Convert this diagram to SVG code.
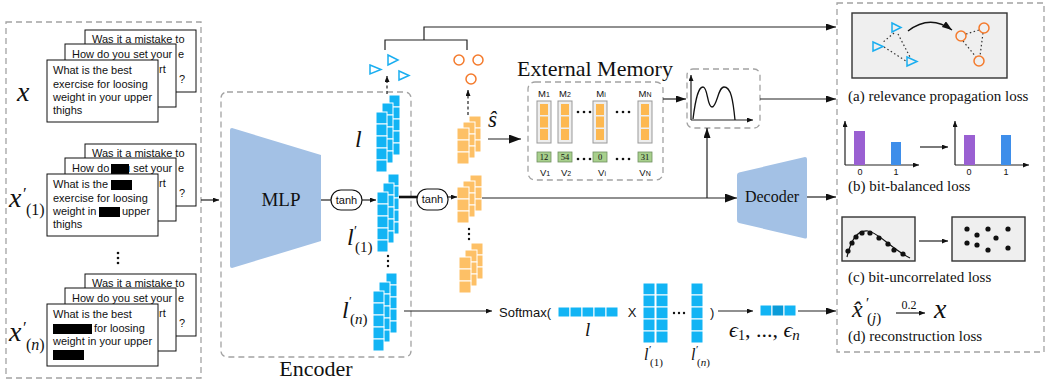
<svg xmlns="http://www.w3.org/2000/svg" width="1049" height="383" viewBox="0 0 1049 383">
<defs>
<style>
.dash{fill:none;stroke:#a3a3a3;stroke-width:1.3;stroke-dasharray:6 4}
.card{fill:#fff;stroke:#111;stroke-width:1}
.ct{font-family:"Liberation Sans",Arial,sans-serif;font-size:11px;fill:#111}
.serif{font-family:"Liberation Serif","DejaVu Serif",serif;fill:#111}
.math{font-family:"Liberation Serif","DejaVu Serif",serif;font-style:italic;fill:#111}
.sans{font-family:"Liberation Sans",Arial,sans-serif;fill:#111}
.ln{fill:none;stroke:#222;stroke-width:1.2}
.thick{fill:none;stroke:#111;stroke-width:2.6}
.trap{fill:#a3c1e5}
.pill{fill:#fff;stroke:#111;stroke-width:1.2}
.tri{fill:none;stroke:#1aaef0;stroke-width:1.5}
.cir{fill:none;stroke:#f47a2c;stroke-width:1.5}
.dot{fill:none;stroke:#333;stroke-width:1.2;stroke-dasharray:1.5 2.5}
.dl{fill:none;stroke:#222;stroke-width:1.2;stroke-dasharray:3 2.5}
.gbox{fill:#efefef;stroke:#333;stroke-width:1.4}
.bc{fill:#12b4f4;stroke:#fff;stroke-width:1}
.oc{fill:#fdc066;stroke:#fff;stroke-width:1}
.mo{fill:#eeeeee;stroke:#999;stroke-width:1}
.mc{fill:#fdb850}
.gv{fill:#a8d08d;stroke:#6f8f60;stroke-width:0.8}
.pt{fill:#111}
</style>
<marker id="arr" markerUnits="userSpaceOnUse" markerWidth="11" markerHeight="8" refX="10" refY="3.5" orient="auto"><path d="M0,0 L10,3.5 L0,7 z" fill="#111"/></marker>
<marker id="arrL" markerUnits="userSpaceOnUse" markerWidth="13" markerHeight="10" refX="12" refY="4.5" orient="auto"><path d="M0,0 L12,4.5 L0,9 z" fill="#111"/></marker>
<marker id="arrS" markerUnits="userSpaceOnUse" markerWidth="7" markerHeight="6" refX="6" refY="2.5" orient="auto"><path d="M0,0 L6,2.5 L0,5 z" fill="#111"/></marker>
<g id="bcol"><rect class="bc" x="0" y="0" width="11" height="12"/><rect class="bc" x="0" y="12" width="11" height="12"/><rect class="bc" x="0" y="24" width="11" height="12"/><rect class="bc" x="0" y="36" width="11" height="12"/><rect class="bc" x="0" y="48" width="11" height="12"/></g>
<g id="ocol"><rect class="oc" x="0" y="0" width="12" height="12"/><rect class="oc" x="0" y="12" width="12" height="12"/><rect class="oc" x="0" y="24" width="12" height="12"/></g>
<g id="mcol"><rect class="mo" x="0" y="0" width="14" height="42"/><rect class="mc" x="3" y="3" width="8" height="11"/><rect class="mc" x="3" y="15.5" width="8" height="11"/><rect class="mc" x="3" y="28" width="8" height="11"/></g>
</defs>
<rect width="1049" height="383" fill="#fff"/>

<!-- input panel -->
<g id="inputs">
<rect class="dash" x="6" y="22" width="195" height="356"/>
<g id="x-orig">
<rect class="card" x="85" y="30" width="111" height="62"/>
<text class="ct" x="92" y="43">Was it a mistake to</text>
<text class="ct" x="178" y="58">e</text>
<text class="ct" x="179" y="83">?</text>
<rect class="card" x="65" y="44" width="111" height="63"/>
<text class="ct" x="72" y="58">How do you set your</text>
<text class="ct" x="159" y="73">rt</text>
<rect class="card" x="47" y="60" width="111" height="62"/>
<text class="ct" x="53" y="74">What is the best</text>
<text class="ct" x="53" y="88">exercise for loosing</text>
<text class="ct" x="53" y="101">weight in your upper</text>
<text class="ct" x="53" y="114">thighs</text>
<text class="math" x="17" y="101" font-size="28">x</text>
</g>
<g id="x-1">
<rect class="card" x="85" y="144" width="111" height="62"/>
<text class="ct" x="92" y="157">Was it a mistake to</text>
<text class="ct" x="178" y="172">e</text>
<text class="ct" x="179" y="197">?</text>
<rect class="card" x="65" y="158" width="111" height="63"/>
<text class="ct" x="72" y="172">How do you set your</text>
<rect x="111" y="164" width="18" height="10" fill="#000"/>
<text class="ct" x="159" y="187">rt</text>
<rect class="card" x="47" y="174" width="111" height="62"/>
<text class="ct" x="53" y="188">What is the</text>
<rect x="111" y="180" width="21" height="10" fill="#000"/>
<text class="ct" x="53" y="202">exercise for loosing</text>
<text class="ct" x="53" y="215">weight in</text>
<rect x="99" y="207" width="21" height="10" fill="#000"/>
<text class="ct" x="122" y="215">upper</text>
<text class="ct" x="53" y="228">thighs</text>
<text class="math" x="9" y="207" font-size="28">x</text>
<text class="serif" x="23" y="199" font-size="17">′</text>
<text class="serif" x="26" y="215" font-size="16">(1)</text>
</g>
<circle class="pt" cx="118" cy="253" r="1.3"/><circle class="pt" cx="118" cy="258" r="1.3"/><circle class="pt" cx="118" cy="263" r="1.3"/>
<g id="x-n">
<rect class="card" x="85" y="274" width="111" height="62"/>
<text class="ct" x="92" y="287">Was it a mistake to</text>
<text class="ct" x="178" y="302">e</text>
<text class="ct" x="179" y="327">?</text>
<rect class="card" x="65" y="288" width="111" height="63"/>
<text class="ct" x="72" y="302">How do you set your</text>
<text class="ct" x="159" y="317">rt</text>
<rect class="card" x="47" y="304" width="111" height="62"/>
<text class="ct" x="53" y="318">What is the best</text>
<rect x="53" y="324" width="39" height="10" fill="#000"/>
<text class="ct" x="94" y="332">for loosing</text>
<text class="ct" x="53" y="345">weight in your upper</text>
<rect x="53" y="350" width="31" height="10" fill="#000"/>
<text class="math" x="9" y="341" font-size="28">x</text>
<text class="serif" x="23" y="333" font-size="17">′</text>
<text class="serif" x="26" y="350" font-size="16">(<tspan font-style="italic">n</tspan>)</text>
</g>
</g>

<!-- encoder -->
<g id="encoder">
<rect class="dash" x="221" y="92" width="190" height="265" rx="6"/>
<text class="serif" x="316" y="376" font-size="22" text-anchor="middle">Encoder</text>
</g>
<g id="mlp">
<path class="trap" d="M230,130 Q230,128 232,128 L321,155 L321,241 L232,268 Q230,268 230,266 Z"/>
<text class="serif" x="281" y="206" font-size="19" text-anchor="middle">MLP</text>
</g>
<g id="tanh1">
<rect class="pill" x="331" y="190" width="31" height="20" rx="10"/>
<text class="sans" x="346.5" y="204" font-size="11" text-anchor="middle">tanh</text>
</g>
<g id="stack-l">
<use href="#bcol" x="389" y="95"/><use href="#bcol" x="382" y="103"/><use href="#bcol" x="376" y="112"/>
<text class="math" x="355" y="147" font-size="24">l</text>
</g>
<g id="stack-l1">
<use href="#bcol" x="388" y="174"/><use href="#bcol" x="383" y="183"/><use href="#bcol" x="377" y="192"/>
<text class="math" x="347" y="245" font-size="24">l</text>
<text class="serif" x="354" y="236" font-size="14">′</text>
<text class="serif" x="355" y="252" font-size="15">(1)</text>
</g>
<circle class="pt" cx="388" cy="256" r="1.2"/><circle class="pt" cx="388" cy="261" r="1.2"/><circle class="pt" cx="388" cy="266" r="1.2"/>
<g id="stack-ln">
<use href="#bcol" x="386" y="273"/><use href="#bcol" x="379" y="282"/><use href="#bcol" x="373" y="291"/>
<text class="math" x="342" y="318" font-size="24">l</text>
<text class="serif" x="349" y="305" font-size="13">′</text>
<text class="serif" x="350" y="324" font-size="15">(<tspan font-style="italic">n</tspan>)</text>
</g>

<!-- hash codes -->
<g id="triangles">
<polygon class="tri" points="370,65 381,69.5 370,74"/>
<polygon class="tri" points="388,55 398,60 388,65"/>
<polygon class="tri" points="399,71 409,75.5 399,80"/>
</g>
<g id="circles">
<circle class="cir" cx="459" cy="60" r="5"/>
<circle class="cir" cx="478" cy="60" r="5"/>
<circle class="cir" cx="471" cy="79" r="5"/>
</g>
<g id="tanh2">
<rect class="pill" x="417" y="189" width="31" height="21" rx="10"/>
<text class="sans" x="432.5" y="203" font-size="11" text-anchor="middle">tanh</text>
</g>
<g id="stack-s">
<use href="#ocol" x="469" y="116"/><use href="#ocol" x="463" y="122"/><use href="#ocol" x="457" y="128"/>
<text class="math" x="488" y="127" font-size="23">ŝ</text>
</g>
<g id="stack-s1">
<use href="#ocol" x="470" y="175"/><use href="#ocol" x="463" y="181"/><use href="#ocol" x="457" y="187"/>
</g>
<circle class="pt" cx="469" cy="229" r="1.2"/><circle class="pt" cx="469" cy="234" r="1.2"/><circle class="pt" cx="469" cy="239" r="1.2"/>
<g id="stack-sn">
<use href="#ocol" x="471" y="243"/><use href="#ocol" x="465" y="250"/><use href="#ocol" x="459" y="257"/>
</g>

<!-- external memory -->
<g id="memory">
<text class="serif" x="595" y="76" font-size="22" text-anchor="middle">External Memory</text>
<rect class="dash" x="528" y="82" width="135" height="98" rx="7"/>
<g class="sans" font-size="9.5" text-anchor="middle">
<text x="544" y="97">M<tspan font-size="7">1</tspan></text>
<text x="565" y="97">M<tspan font-size="7">2</tspan></text>
<text x="601" y="97">M<tspan font-size="7">i</tspan></text>
<text x="645" y="97">M<tspan font-size="7">N</tspan></text>
<text x="545" y="176">V<tspan font-size="7">1</tspan></text>
<text x="566" y="176">V<tspan font-size="7">2</tspan></text>
<text x="602" y="176">V<tspan font-size="7">i</tspan></text>
<text x="645" y="176">V<tspan font-size="7">N</tspan></text>
</g>
<use href="#mcol" x="537" y="101"/><use href="#mcol" x="558" y="101"/><use href="#mcol" x="593" y="101"/><use href="#mcol" x="638" y="101"/>
<rect class="gv" x="537" y="152" width="14" height="10"/><rect class="gv" x="558" y="152" width="14" height="10"/><rect class="gv" x="593" y="152" width="14" height="10"/><rect class="gv" x="638" y="152" width="14" height="10"/>
<g class="serif" font-size="8.5" text-anchor="middle">
<text x="544" y="160">12</text><text x="565" y="160">54</text><text x="600" y="160">0</text><text x="645" y="160">31</text>
</g>
<g class="pt">
<circle cx="578" cy="112" r="1.3"/><circle cx="584" cy="112" r="1.3"/><circle cx="590" cy="112" r="1.3"/>
<circle cx="617" cy="112" r="1.3"/><circle cx="623" cy="112" r="1.3"/><circle cx="629" cy="112" r="1.3"/>
<circle cx="578" cy="159" r="1.3"/><circle cx="584" cy="159" r="1.3"/><circle cx="590" cy="159" r="1.3"/>
<circle cx="617" cy="159" r="1.3"/><circle cx="623" cy="159" r="1.3"/><circle cx="629" cy="159" r="1.3"/>
</g>
</g>
<g id="distribution">
<rect class="dash" x="687" y="69" width="73" height="59" rx="6"/>
<line class="ln" x1="691" y1="120" x2="691" y2="75" stroke="#111" marker-end="url(#arrS)"/>
<line class="ln" x1="691" y1="120" x2="753" y2="120" stroke="#111" marker-end="url(#arrS)"/>
<path d="M693,119 C696,95 699,87 703,87 C708,87 707,107 712,107 C717,107 718,87 724,87 C731,87 733,100 735,120" fill="none" stroke="#111" stroke-width="1.3"/>
</g>
<g id="decoder">
<path class="trap" d="M737,175 Q737,173 739,172.5 L805,157 Q807,157 807,159 L807,237 Q807,239 805,238.5 L739,223 Q737,222.5 737,220 Z"/>
<text class="serif" x="772" y="202" font-size="16" text-anchor="middle">Decoder</text>
</g>

<!-- softmax row -->
<g id="softmax">
<text class="sans" x="499" y="317" font-size="13">Softmax(</text>
<rect class="bc" x="558" y="307" width="12" height="10"/><rect class="bc" x="570" y="307" width="12" height="10"/><rect class="bc" x="582" y="307" width="12" height="10"/><rect class="bc" x="594" y="307" width="12" height="10"/><rect class="bc" x="606" y="307" width="12" height="10"/>
<text class="math" x="585" y="336" font-size="19">l</text>
<text class="sans" x="632" y="317" font-size="13" text-anchor="middle">X</text>
<g>
<rect class="bc" x="643" y="283" width="12" height="12"/><rect class="bc" x="643" y="295" width="12" height="12"/><rect class="bc" x="643" y="307" width="12" height="12"/><rect class="bc" x="643" y="319" width="12" height="12"/><rect class="bc" x="643" y="331" width="12" height="12"/>
<rect class="bc" x="656" y="283" width="12" height="12"/><rect class="bc" x="656" y="295" width="12" height="12"/><rect class="bc" x="656" y="307" width="12" height="12"/><rect class="bc" x="656" y="319" width="12" height="12"/><rect class="bc" x="656" y="331" width="12" height="12"/>
<rect class="bc" x="691" y="283" width="12" height="12"/><rect class="bc" x="691" y="295" width="12" height="12"/><rect class="bc" x="691" y="307" width="12" height="12"/><rect class="bc" x="691" y="319" width="12" height="12"/><rect class="bc" x="691" y="331" width="12" height="12"/>
</g>
<circle class="pt" cx="674" cy="313" r="1.2"/><circle class="pt" cx="679" cy="313" r="1.2"/><circle class="pt" cx="684" cy="313" r="1.2"/>
<text class="sans" x="710" y="317" font-size="13">)</text>
<text class="math" x="644" y="360" font-size="16">l</text>
<text class="serif" x="649" y="353" font-size="11">′</text>
<text class="serif" x="650" y="366" font-size="11">(1)</text>
<text class="math" x="691" y="360" font-size="16">l</text>
<text class="serif" x="696" y="353" font-size="11">′</text>
<text class="serif" x="697" y="366" font-size="11">(<tspan font-style="italic">n</tspan>)</text>
</g>
<g id="epsilon">
<rect class="bc" x="760" y="305" width="12" height="11"/><rect class="bc" x="772" y="305" width="12" height="11" style="fill:#0a9bd8"/><rect class="bc" x="784" y="305" width="12" height="11"/>
<text class="math" x="729" y="337" font-size="22" font-family="'DejaVu Serif',serif">ϵ<tspan font-size="14" font-style="normal" dy="3">1</tspan><tspan dy="-3" font-style="normal">, ..., </tspan>ϵ<tspan font-size="15" dy="3">n</tspan></text>
</g>

<!-- loss panel -->
<g id="losses">
<rect class="dash" x="837" y="3" width="207" height="349"/>
<g id="loss-a">
<rect class="gbox" x="852" y="13" width="155" height="65"/>
<line class="dot" x1="894" y1="33" x2="882" y2="43"/>
<line class="dot" x1="884" y1="47" x2="906" y2="61"/>
<line class="dot" x1="898" y1="34" x2="910" y2="57"/>
<polygon class="tri" points="873,42 883,46.5 873,51"/>
<polygon class="tri" points="892,23 901,27.5 892,32"/>
<polygon class="tri" points="907,57 917,61.5 907,66"/>
<line class="dot" x1="966" y1="34" x2="979" y2="30"/>
<line class="dot" x1="963" y1="41" x2="976" y2="57"/>
<line class="dot" x1="983" y1="33" x2="980" y2="56"/>
<circle class="cir" cx="961" cy="36" r="5"/>
<circle class="cir" cx="984" cy="28" r="5"/>
<circle class="cir" cx="979" cy="61" r="5"/>
<path d="M908,31 Q930,14 952,30" fill="none" stroke="#111" stroke-width="1.4" marker-end="url(#arr)"/>
<text class="serif" x="848" y="101" font-size="15">(a) relevance propagation loss</text>
</g>
<g id="loss-b">
<line class="ln" x1="845" y1="165" x2="845" y2="121" stroke="#111" marker-end="url(#arrS)"/>
<line class="ln" x1="845" y1="165" x2="919" y2="165" stroke="#111" marker-end="url(#arrS)"/>
<rect x="854" y="131" width="11" height="34" fill="#9a60d2"/>
<rect x="891" y="142" width="10" height="23" fill="#3e8eea"/>
<text class="sans" x="860" y="175" font-size="9" text-anchor="middle">0</text>
<text class="sans" x="896" y="175" font-size="9" text-anchor="middle">1</text>
<line class="ln" x1="920" y1="147" x2="948" y2="147" marker-end="url(#arrS)"/>
<line class="ln" x1="955" y1="165" x2="955" y2="121" stroke="#111" marker-end="url(#arrS)"/>
<line class="ln" x1="955" y1="165" x2="1029" y2="165" stroke="#111" marker-end="url(#arrS)"/>
<rect x="964" y="135" width="11" height="30" fill="#9a60d2"/>
<rect x="1001" y="135" width="10" height="30" fill="#3e8eea"/>
<text class="sans" x="969" y="175" font-size="9" text-anchor="middle">0</text>
<text class="sans" x="1006" y="175" font-size="9" text-anchor="middle">1</text>
<text class="serif" x="848" y="191" font-size="15">(b) bit-balanced loss</text>
</g>
<g id="loss-c">
<rect class="gbox" x="842" y="217" width="73" height="44"/>
<path d="M847,257 C852,235 860,230 868,231 C878,232 890,248 910,258" fill="none" stroke="#111" stroke-width="1.2"/>
<g class="pt">
<circle cx="848" cy="251" r="2.6"/><circle cx="852" cy="243" r="2.6"/><circle cx="856" cy="237" r="2.6"/><circle cx="862" cy="233" r="2.6"/><circle cx="870" cy="233" r="2.6"/><circle cx="879" cy="238" r="2.6"/><circle cx="888" cy="244" r="2.6"/><circle cx="894" cy="250" r="2.6"/><circle cx="903" cy="254" r="2.6"/>
</g>
<line class="ln" x1="919" y1="241" x2="948" y2="241" marker-end="url(#arrS)"/>
<rect class="gbox" x="952" y="217" width="73" height="44"/>
<g class="pt">
<circle cx="967" cy="229" r="2.6"/><circle cx="977" cy="235" r="2.6"/><circle cx="988" cy="229" r="2.6"/><circle cx="1008" cy="229" r="2.6"/><circle cx="967" cy="243" r="2.6"/><circle cx="977" cy="245" r="2.6"/><circle cx="996" cy="238" r="2.6"/><circle cx="988" cy="250" r="2.6"/><circle cx="1008" cy="248" r="2.6"/>
</g>
<text class="serif" x="848" y="282" font-size="15">(c) bit-uncorrelated loss</text>
</g>
<g id="loss-d">
<text class="math" x="852" y="317" font-size="24">x̂</text>
<text class="serif" x="866" y="308" font-size="15">′</text>
<text class="serif" x="867" y="323" font-size="15">(<tspan font-style="italic">j</tspan>)</text>
<text class="serif" x="909" y="309" font-size="12" text-anchor="middle">0.2</text>
<line class="ln" x1="896" y1="313" x2="925" y2="313" marker-end="url(#arrS)"/>
<text class="math" x="934" y="318" font-size="28">x</text>
<text class="serif" x="848" y="341" font-size="15">(d) reconstruction loss</text>
</g>
</g>

<!-- connectors -->
<g id="connectors">
<line class="ln" x1="201" y1="200" x2="219" y2="200" marker-end="url(#arrS)"/>
<line class="ln" x1="321" y1="200" x2="331" y2="200"/>
<line class="ln" x1="362" y1="200" x2="376" y2="200" marker-end="url(#arrS)"/>
<line class="thick" x1="399" y1="197" x2="417" y2="197"/>
<line class="ln" x1="448" y1="197" x2="457" y2="197" marker-end="url(#arrS)"/>
<line class="ln" x1="482" y1="198" x2="737" y2="198" marker-end="url(#arrL)"/>
<line class="ln" x1="707" y1="198" x2="707" y2="128" marker-end="url(#arr)"/>
<line class="ln" x1="488" y1="139" x2="521" y2="139" marker-end="url(#arrL)"/>
<line class="ln" x1="663" y1="99" x2="686" y2="99" marker-end="url(#arr)"/>
<line class="ln" x1="760" y1="99" x2="836" y2="99" marker-end="url(#arr)"/>
<line class="ln" x1="807" y1="197" x2="836" y2="197" marker-end="url(#arr)"/>
<polyline class="ln" points="385,50 385,40 467,40 467,50"/>
<polyline class="ln" points="424,40 424,27 836,27" marker-end="url(#arr)"/>
<line class="dl" x1="387" y1="94" x2="387" y2="76" marker-end="url(#arrS)"/>
<line class="dl" x1="468" y1="115" x2="468" y2="90" marker-end="url(#arrS)"/>
<line class="ln" x1="404" y1="311" x2="492" y2="311" marker-end="url(#arrS)"/>
<line class="ln" x1="718" y1="311" x2="753" y2="311" marker-end="url(#arrS)"/>
<line class="ln" x1="798" y1="311" x2="836" y2="311" marker-end="url(#arr)"/>
</g>
</svg>
